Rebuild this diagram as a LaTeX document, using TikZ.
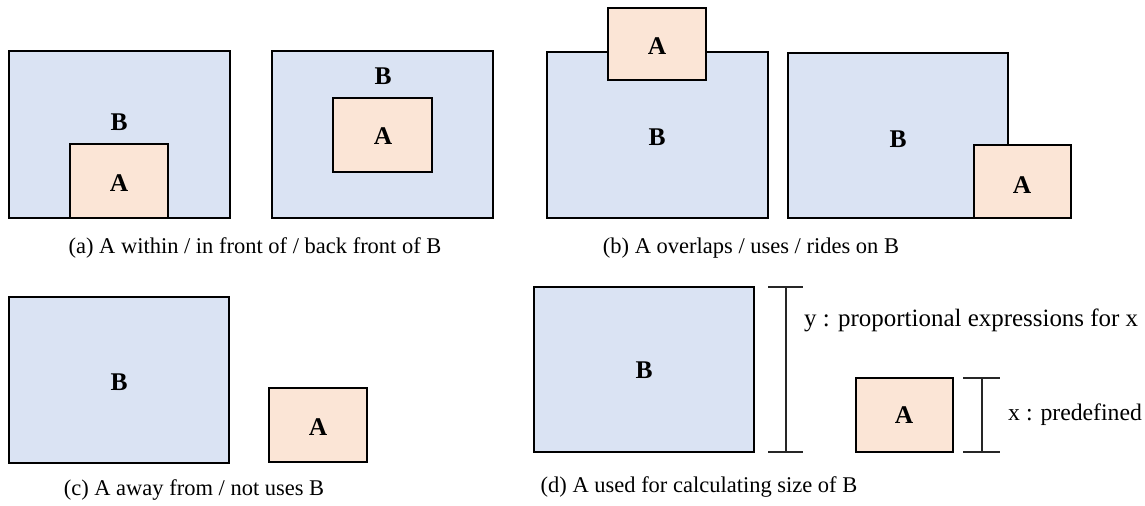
\documentclass[tikz,border=0pt]{standalone}
\usepackage{fontspec}
\setmainfont{Liberation Serif}
\usepackage{xcolor}
\usepackage{tikz}
\usetikzlibrary{positioning}
\definecolor{cBoxB}{RGB}{218,227,243}
\definecolor{cBoxA}{RGB}{251,229,214}

\begin{document}
\begin{tikzpicture}[x=0.02cm,y=-0.02cm,
  boxB/.style={draw=black,fill=cBoxB,line width=1.1pt},
  boxA/.style={draw=black,fill=cBoxA,line width=1.1pt},
  lbl/.style={font=\fontsize{14.5}{16}\selectfont\bfseries},
  capt/.style={font=\fontsize{12.8}{15}\selectfont},
  note/.style={font=\fontsize{14.2}{16}\selectfont,anchor=west},
  dimline/.style={draw=black!85,line width=0.6pt}]
 \useasboundingbox (0,0) rectangle (1145,506);
 % ---- (a) within ----
 \draw[boxB] (9,51) rectangle (230,218);
 \draw[boxA] (70,144) rectangle (168,218);
 \node[lbl] (b1) at (119,122) {B};
 \node[lbl] (a1) at (119,183) {A};
 \draw[boxB] (272,51) rectangle (493,218);
 \draw[boxA] (333,98) rectangle (432,172);
 \node[lbl] (b2) at (383,76) {B};
 \node[lbl] (a2) at (383,136) {A};
 \node[capt] (capa) at (255,248) {(a) A within / in front of / back front of B};
 % ---- (b) overlaps ----
 \draw[boxB] (547,52) rectangle (768,218);
 \draw[boxA] (608,8) rectangle (706,80);
 \node[lbl] (a3) at (657,46) {A};
 \node[lbl] (b3) at (657,137) {B};
 \draw[boxB] (788,53) rectangle (1008,218);
 \draw[boxA] (974,145) rectangle (1071,218);
 \node[lbl] (b4) at (898,139) {B};
 \node[lbl] (a4) at (1022,185) {A};
 \node[capt] (capb) at (751,248) {(b) A overlaps / uses / rides on B};
 % ---- (c) away from ----
 \draw[boxB] (9,297) rectangle (229,463);
 \draw[boxA] (269,388) rectangle (367,462);
 \node[lbl] (b6) at (119,382) {B};
 \node[lbl] (a6) at (318,427) {A};
 \node[capt] (capc) at (194,490) {(c) A away from / not uses B};
 % ---- (d) size of B ----
 \draw[boxB] (534,287) rectangle (754,452);
 \draw[boxA] (856,378) rectangle (953,452);
 \node[lbl] (b5) at (644,370) {B};
 \node[lbl] (a5) at (904,415) {A};
 \draw[dimline] (768,287) -- (803,287) (786,287) -- (786,452) (768,452) -- (803,452);
 \draw[dimline] (963,378) -- (1000,378) (982,378) -- (982,452) (963,452) -- (1000,452);
 \node[note] (ytxt) at (798,320) {y : proportional expressions for x};
 \node[note,font=\fontsize{13.5}{15}\selectfont] (xtxt) at (1002,415) {x : predefined};
 \node[capt] (capd) at (699,487) {(d) A used for calculating size of B};
\end{tikzpicture}
\end{document}
